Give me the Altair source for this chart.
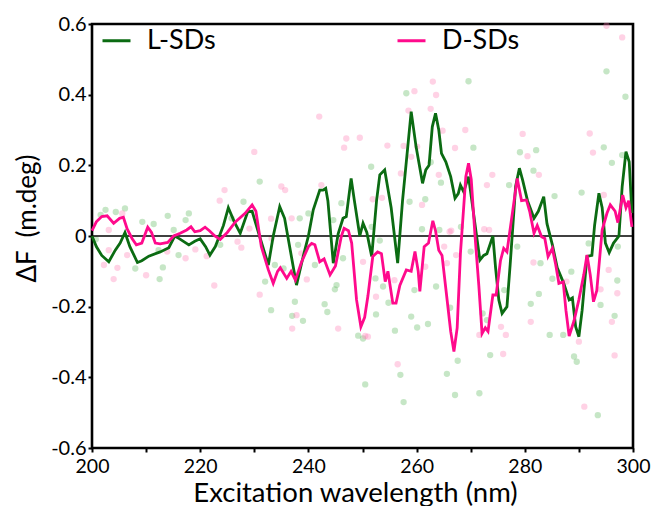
import altair as alt
import pandas as pd

# ---- L-SDs line ----
L_wl = [200.0, 200.8, 201.8, 203.1, 204.3, 205.2, 206.1, 207.0, 208.4, 209.2, 210.5, 212.6, 214.2, 215.3,
        216.2, 217.9, 219.0, 220.0, 221.0, 221.8, 222.8, 224.3, 225.2, 226.3, 227.4, 228.8, 229.6, 230.8,
        232.6, 233.5, 234.7, 235.6, 237.8, 239.0, 240.0, 240.9, 242.1, 242.7, 243.2, 243.6, 244.6, 245.5,
        246.4, 247.0, 247.9, 248.5, 249.5, 250.1, 250.8, 251.7, 252.6, 253.2, 254.1, 255.3, 256.5, 257.4,
        259.0, 259.9, 261.1, 261.7, 262.3, 262.9, 263.5, 264.1, 264.6, 265.4, 266.3, 267.1, 267.7, 268.1,
        268.7, 269.6, 270.3, 271.0, 271.7, 272.4, 273.0, 274.1, 274.6, 275.2, 275.8, 276.7, 277.3, 278.3,
        279.0, 279.6, 280.5, 281.7, 282.5, 283.5, 284.1, 285.1, 286.0, 287.2, 288.2, 288.8, 289.4, 290.0,
        290.6, 291.5, 292.4, 292.9, 293.7, 294.3, 294.9, 295.6, 296.4, 297.4, 298.0, 298.7, 299.3, 299.8]
L_val = [0.0, -0.03, -0.055, -0.073, -0.04, -0.02, 0.01, -0.03, -0.075, -0.07, -0.057, -0.045, -0.033, 0.0,
         -0.008, -0.025, -0.015, -0.008, -0.03, -0.054, -0.03, 0.03, 0.08, 0.04, 0.008, 0.069, 0.07, 0.008,
         -0.082, 0.0, 0.083, 0.05, -0.139, -0.06, 0.0, 0.074, 0.13, 0.13, 0.135, 0.1, -0.077, 0.006,
         0.05, 0.055, 0.163, 0.1, 0.0, 0.036, 0.01, -0.058, 0.1, 0.173, 0.187, 0.08, -0.077, 0.1,
         0.352, 0.253, 0.149, 0.187, 0.2, 0.309, 0.347, 0.3, 0.234, 0.21, 0.168, 0.107, 0.12, 0.144,
         0.125, 0.168, 0.09, 0.01, -0.068, -0.055, -0.05, 0.0, -0.09, -0.181, -0.219, -0.2, -0.08, 0.14,
         0.192, 0.158, 0.1, 0.05, 0.07, 0.111, 0.035, -0.025, -0.09, -0.134, -0.181, -0.175, -0.257, -0.285,
         -0.21, -0.058, -0.055, 0.03, 0.121, 0.08, -0.02, -0.047, -0.02, 0.0, 0.14, 0.239, 0.21, 0.065]

# ---- D-SDs line ----
D_wl = [200.0, 200.8, 201.8, 202.8, 204.0, 205.1, 205.8, 206.5, 207.4, 208.2, 209.2, 210.3, 211.0, 211.7,
        212.6, 214.0, 215.1, 216.3, 217.5, 218.3, 219.0, 220.0, 220.9, 221.7, 222.7, 223.7, 225.0, 226.5,
        228.3, 229.6, 230.3, 231.3, 232.6, 233.5, 234.3, 234.8, 236.0, 236.8, 237.6, 238.7, 240.0, 240.6,
        241.2, 242.1, 242.9, 244.0, 245.0, 246.1, 246.6, 247.4, 248.0, 248.9, 249.7, 250.4, 251.0, 251.9,
        252.8, 253.5, 254.2, 254.7, 255.6, 256.2, 256.9, 258.1, 259.0, 259.7, 260.3, 260.6, 261.4, 262.2,
        263.0, 263.5, 264.1, 264.7, 265.5, 266.3, 266.9, 267.5, 268.1, 269.1, 269.6, 270.1, 270.8, 271.5,
        272.1, 272.7, 273.2, 274.1, 274.7, 275.5, 276.1, 276.7, 277.7, 278.6, 279.4, 280.3, 280.9, 281.7,
        282.3, 283.1, 283.7, 284.3, 285.1, 285.7, 286.3, 287.1, 287.6, 288.2, 289.1, 290.0, 290.9, 291.5,
        292.1, 292.7, 293.3, 294.3, 295.2, 295.8, 296.7, 297.2, 298.1, 298.7, 299.2, 299.8]
D_val = [0.015, 0.04, 0.055, 0.057, 0.036, 0.05, 0.053, 0.02, -0.007, -0.025, -0.02, 0.025, 0.01, -0.02,
         -0.022, -0.018, 0.0, 0.008, 0.017, 0.026, 0.012, 0.015, 0.025, 0.015, 0.0, -0.01, 0.01, 0.04,
         0.064, 0.088, 0.07, -0.03, -0.096, -0.134, -0.1, -0.09, -0.12, -0.1, -0.125, -0.075, -0.03, -0.021,
         -0.025, -0.073, -0.065, -0.11, -0.085, 0.0, 0.022, 0.015, -0.02, -0.181, -0.257, -0.23, -0.17, -0.058,
         -0.045, -0.05, -0.129, -0.1, -0.19, -0.19, -0.14, -0.096, -0.1, -0.044, -0.1, -0.157, -0.03, -0.02,
         0.043, 0.015, -0.04, -0.055, -0.162, -0.27, -0.327, -0.26, -0.05, 0.168, 0.206, 0.16, 0.0, -0.14,
         -0.276, -0.26, -0.27, -0.167, -0.167, -0.07, -0.035, -0.045, 0.064, 0.163, 0.1, 0.102, 0.07, 0.008,
         0.03, -0.002, -0.007, -0.058, -0.035, -0.08, -0.134, -0.13, -0.21, -0.283, -0.24, -0.18, -0.11, -0.054,
         -0.11, -0.186, -0.155, 0.017, 0.065, 0.088, 0.07, 0.038, 0.116, 0.08, 0.1, 0.026]

# ---- scattered raw points ----
L_dot_wl = [200.7, 201.6, 202.5, 204.4, 206.1, 208.0, 209.3, 211.4, 212.3, 212.5, 213.1, 214.0, 215.1, 216.0,
            217.3, 217.9, 223.7, 225.8, 228.0, 231.0, 232.0, 233.1, 233.8, 235.4, 237.0, 237.5, 238.1, 238.4,
            239.0, 240.0, 241.2, 243.0, 243.5, 244.6, 244.9, 245.2, 246.1, 246.4, 249.2, 250.1, 250.5, 251.6,
            251.7, 252.4, 252.5, 253.2, 253.8, 254.8, 256.0, 257.0, 257.6, 258.1, 258.7, 259.0, 259.6, 260.1,
            261.0, 261.6, 262.1, 262.6, 263.6, 264.2, 264.5, 265.6, 266.2, 267.1, 267.6, 268.2, 269.6, 270.0,
            270.5, 271.6, 272.2, 273.0, 273.6, 276.2, 277.1, 278.6, 279.1, 281.1, 281.6, 282.1, 282.6, 282.9,
            284.6, 285.1, 285.5, 287.1, 288.6, 289.1, 289.6, 290.5, 291.8, 293.5, 294.0, 294.6, 295.1, 296.1,
            296.6, 297.1, 297.2, 298.0, 298.6]
L_dot_val = [-0.009, 0.06, 0.074, 0.068, 0.078, -0.092, 0.04, 0.034, -0.04, -0.122, -0.089, 0.057, 0.017, -0.054,
             0.045, 0.064, -0.025, 0.05, 0.097, 0.154, -0.129, -0.21, -0.082, -0.092, -0.226, -0.186, -0.025, 0.05,
             -0.24, 0.064, -0.082, -0.193, -0.215, 0.045, -0.151, -0.139, 0.093, -0.063, -0.282, -0.29, -0.42, 0.196,
             0.026, -0.12, -0.222, -0.013, -0.143, -0.189, -0.268, -0.393, -0.47, 0.404, 0.097, -0.228, -0.153, -0.259,
             0.019, 0.104, -0.249, 0.209, -0.143, 0.017, 0.151, -0.39, -0.203, -0.45, -0.353, 0.026, 0.438, -0.044,
             0.25, -0.445, -0.219, -0.238, -0.337, -0.153, 0.144, -0.03, 0.237, -0.192, 0.185, 0.243, -0.164, -0.077,
             -0.28, -0.121, 0.113, -0.28, -0.101, -0.341, -0.356, 0.123, -0.021, -0.507, -0.195, 0.251, 0.466, 0.207,
             -0.226, -0.126, -0.03, 0.229, 0.394]

D_dot_wl = [202.2, 203.1, 203.1, 204.0, 204.7, 205.6, 206.5, 210.0, 213.9, 217.3, 219.1, 221.2, 222.6, 223.6,
            224.5, 226.9, 227.6, 229.1, 230.0, 231.0, 233.1, 233.2, 235.0, 235.7, 236.9, 237.0, 237.8, 238.7,
            239.7, 242.0, 242.4, 245.5, 246.6, 247.0, 249.5, 250.1, 250.5, 251.0, 251.9, 252.5, 253.6, 254.6,
            255.9, 256.5, 257.1, 257.6, 258.5, 259.0, 259.6, 260.1, 261.0, 261.6, 262.6, 263.0, 263.6, 264.1,
            264.8, 265.1, 265.6, 266.1, 266.4, 267.1, 267.3, 269.0, 271.6, 272.5, 273.0, 273.4, 274.0, 275.6,
            276.0, 276.5, 279.6, 280.5, 281.1, 281.6, 282.6, 287.7, 290.0, 291.0, 292.0, 292.6, 294.0, 294.6,
            295.1, 295.5, 296.1, 296.6, 297.1, 298.0]
D_dot_val = [-0.082, -0.04, 0.017, -0.122, -0.09, 0.064, -0.054, -0.111, -0.044, -0.063, -0.038, -0.057, -0.14, 0.1,
             0.13, -0.016, -0.033, 0.021, 0.238, -0.166, 0.049, -0.007, 0.14, 0.13, 0.05, -0.262, -0.224, -0.049,
             -0.123, 0.338, 0.144, -0.262, 0.25, 0.276, 0.278, -0.073, -0.283, -0.285, 0.104, -0.172, 0.108, 0.256,
             -0.125, -0.363, 0.177, 0.255, 0.355, 0.224, 0.41, 0.253, 0.088, -0.087, 0.36, 0.437, 0.399, 0.173,
             0.298, -0.03, -0.077, 0.012, 0.015, 0.249, -0.054, 0.3, -0.28, 0.019, 0.144, 0.017, 0.173, -0.257,
             -0.334, -0.28, 0.289, 0.226, -0.243, -0.075, 0.173, -0.129, -0.299, -0.483, 0.29, 0.236, -0.151, 0.116,
             0.595, -0.096, -0.243, -0.338, -0.162, 0.562]

series_names = ["L-SDs", "D-SDs"]
line_colors = ["#0b6b12", "#ff0a8c"]
dot_colors = ["#5cb85c", "#ff7fb5"]

x_ticks = [200, 210, 220, 230, 240, 250, 260, 270, 280, 290, 300]
y_ticks = [-0.6, -0.5, -0.4, -0.3, -0.2, -0.1, 0.0, 0.1, 0.2, 0.3, 0.4, 0.5, 0.6]

FONT = "Lato"

lines_df = pd.concat([
    pd.DataFrame({"wl": L_wl, "val": L_val, "series": series_names[0]}),
    pd.DataFrame({"wl": D_wl, "val": D_val, "series": series_names[1]}),
])
dots_L = pd.DataFrame({"wl": L_dot_wl, "val": L_dot_val})
dots_D = pd.DataFrame({"wl": D_dot_wl, "val": D_dot_val})

xscale = alt.Scale(domain=[200, 300], nice=False, zero=False)
yscale = alt.Scale(domain=[-0.6, 0.6], nice=False, zero=False)

x_axis = alt.Axis(
    values=x_ticks,
    labelExpr="datum.value % 20 == 0 ? datum.label : ''",
    format="d",
    title="Excitation wavelength (nm)",
    titleFontSize=27.5, titleFont=FONT, titleFontWeight="normal", titleColor="black",
    titleX=263, titleY=45, titleBaseline="middle", titleAlign="center",
    labelFontSize=19.5, labelFont=FONT, labelColor="black", labelPadding=5, labelFlush=False,
    labelOverlap=False,
    tickSize=4, tickWidth=2, tickColor="black",
    domain=False, grid=False,
)
y_axis = alt.Axis(
    values=y_ticks,
    labelExpr="round(datum.value*10) % 2 == 0 ? (datum.value < -0.001 ? '-' + format(-datum.value, '.1~f') : format(abs(datum.value), '.1~f')) : ''",
    title="ΔF\u00a0\u00a0(m.deg)",
    titleFontSize=26, titleFont=FONT, titleFontWeight="normal", titleColor="black",
    titleX=-65, titleY=194, titleBaseline="middle", titleAlign="center", titleAngle=-90,
    labelFontSize=20, labelFont=FONT, labelColor="black", labelPadding=2, labelFlush=False,
    labelOverlap=False,
    tickSize=4, tickWidth=2, tickColor="black",
    domain=False, grid=False,
)

dots_l = alt.Chart(dots_L).mark_circle(size=40, opacity=0.35, color=dot_colors[0]).encode(
    x=alt.X("wl:Q", scale=xscale, axis=x_axis),
    y=alt.Y("val:Q", scale=yscale, axis=y_axis),
)
dots_d = alt.Chart(dots_D).mark_circle(size=40, opacity=0.35, color=dot_colors[1]).encode(
    x=alt.X("wl:Q", scale=xscale),
    y=alt.Y("val:Q", scale=yscale),
)

zero = alt.Chart(pd.DataFrame({"v": [0.0]})).mark_rule(color="black", strokeWidth=1.5).encode(
    y=alt.Y("v:Q", scale=yscale)
)

lines = alt.Chart(lines_df).mark_line(strokeWidth=2.8).encode(
    x=alt.X("wl:Q", scale=xscale),
    y=alt.Y("val:Q", scale=yscale),
    color=alt.Color(
        "series:N",
        scale=alt.Scale(domain=series_names, range=line_colors),
        legend=alt.Legend(
            title=None, orient="none", legendX=9, legendY=1, direction="horizontal",
            symbolType="stroke", symbolSize=784, symbolStrokeWidth=3,
            labelFontSize=27, labelFont=FONT, labelColor="black", labelOffset=15,
            columnPadding=175,
        ),
    ),
    detail="series:N",
)

chart = alt.layer(dots_l, dots_d, zero, lines).properties(
    width=541, height=424,
    autosize=alt.AutoSizeParams(type="none"),
    padding={"left": 84, "top": 16, "right": 18, "bottom": 58},
).configure_view(
    stroke="black", strokeWidth=2.6
)

chart.save("out.html", embed_options={"renderer": "svg", "actions": False})
